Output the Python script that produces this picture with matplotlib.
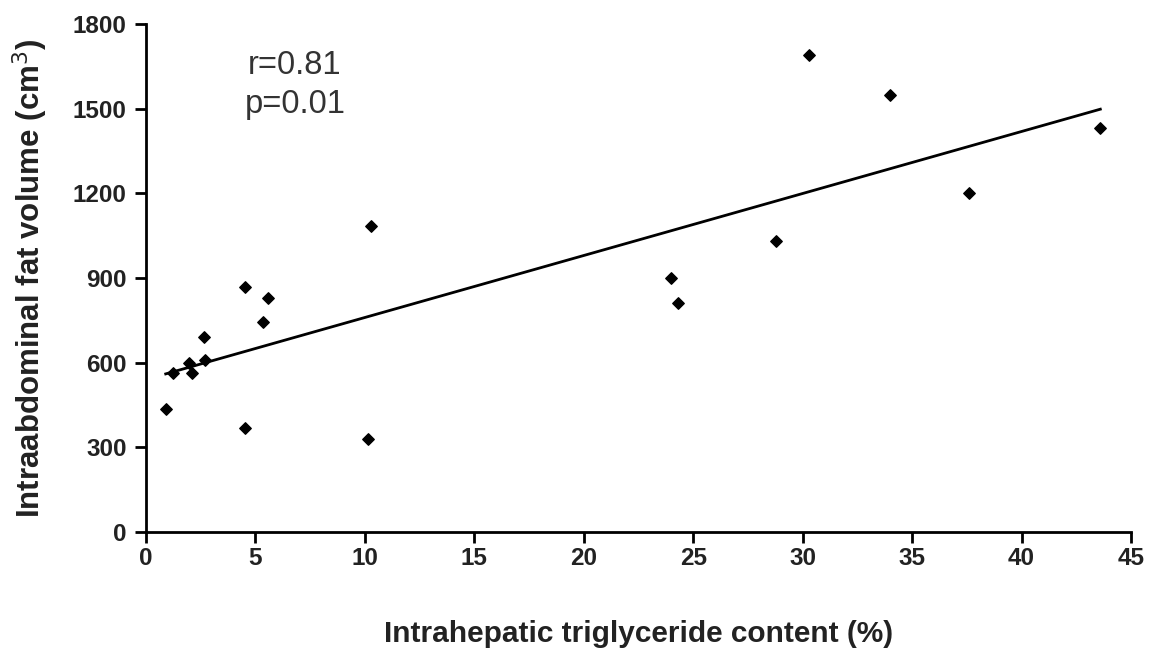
import numpy as np
import matplotlib.pyplot as plt

# Intrahepatic triglyceride content (%) vs intraabdominal fat volume (cm3)
ihtg = [0.9, 1.25, 1.98, 2.11, 2.65, 2.69, 4.52, 4.52, 5.36, 5.56,
        10.15, 10.3, 24.0, 24.3, 28.8, 30.3, 34.0, 37.6, 43.6]
fat_vol = [435, 565, 600, 562, 690, 610, 870, 370, 745, 830,
           330, 1085, 900, 810, 1030, 1690, 1550, 1200, 1430]

x_ticks = [0, 5, 10, 15, 20, 25, 30, 35, 40, 45]
y_ticks = [0, 300, 600, 900, 1200, 1500, 1800]

stats_text = "r=0.81\np=0.01"

font = ["Liberation Sans", "DejaVu Sans"]

fig = plt.figure(figsize=(11.57, 6.5), dpi=100)
ax = fig.add_axes([0.1262, 0.1815, 0.8513, 0.7815])

ax.scatter(ihtg, fat_vol, marker="D", s=34, color="black", zorder=3)

# regression line
k, b = np.polyfit(ihtg, fat_vol, 1)
xs = np.array([min(ihtg), max(ihtg)])
ax.plot(xs, k * xs + b, color="black", lw=2)

ax.set_xlim(0, 45)
ax.set_ylim(0, 1800)
ax.set_xticks(x_ticks)
ax.set_yticks(y_ticks)

for s in ["top", "right"]:
    ax.spines[s].set_visible(False)
for s in ["left", "bottom"]:
    ax.spines[s].set_linewidth(2)
ax.tick_params(axis="both", width=2, length=8, direction="out")
ax.tick_params(axis="x", pad=3)
ax.tick_params(axis="y", pad=6)

for lbl in ax.get_xticklabels() + ax.get_yticklabels():
    lbl.set_family(font)
    lbl.set_fontsize(17.5)
    lbl.set_fontweight("bold")
    lbl.set_color("#222222")

ax.set_xlabel("Intrahepatic triglyceride content (%)", family=font,
              fontsize=21.5, fontweight="bold", color="#222222", labelpad=36)
ax.set_ylabel("Intraabdominal fat volume (cm$^3$)", family=font,
              fontsize=22.5, fontweight="bold", color="#222222", labelpad=16)

ax.text(6.8, 1585, stats_text, ha="center", va="center", fontsize=23.5,
        family=font, color="#333333", linespacing=1.35)

plt.savefig("out.png", dpi=100)
plt.close()
